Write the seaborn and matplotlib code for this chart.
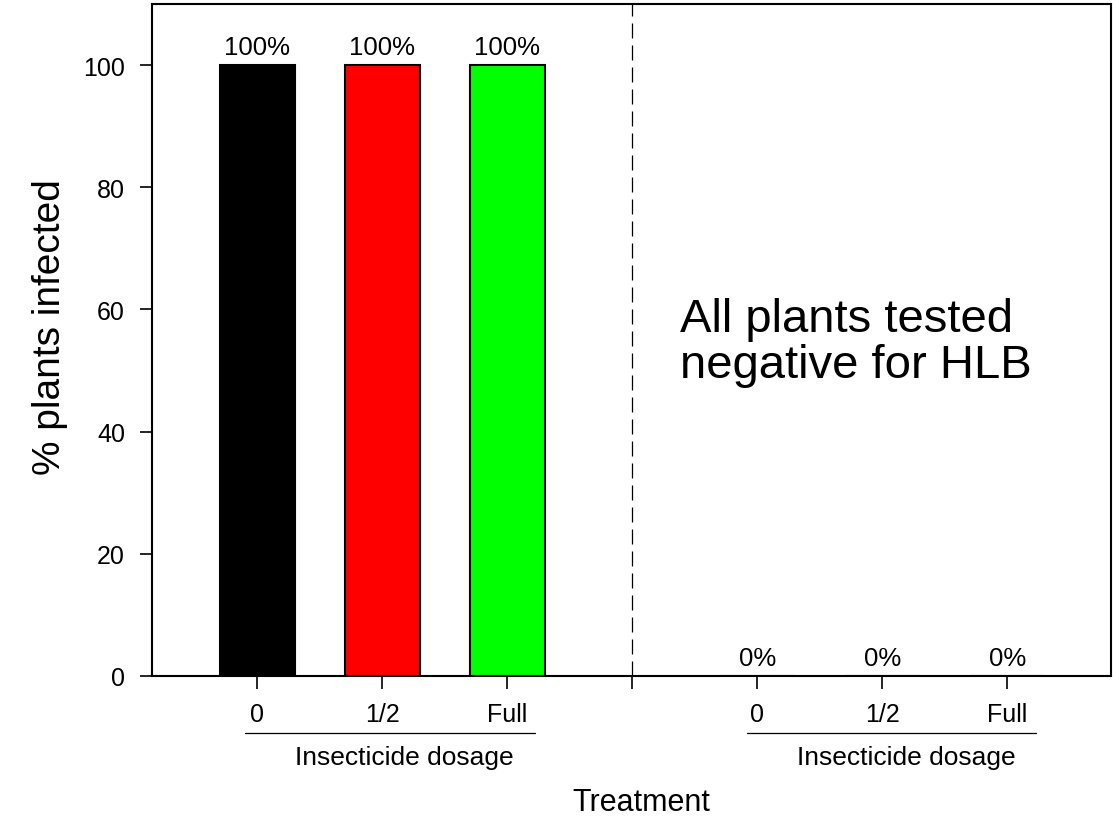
import matplotlib
matplotlib.use("Agg")
import matplotlib.pyplot as plt
import matplotlib.transforms as mtransforms
import pandas as pd
import seaborn as sns

# data
treatments = ["Left", "Right"]
dosages = ["0", "1/2", "Full"]
pct_left = [100, 100, 100]
pct_right = [0, 0, 0]
dose_colors = ["#000000", "#ff0000", "#00ff00"]

rows = []
for treat, vals in zip(treatments, [pct_left, pct_right]):
    for dose, v in zip(dosages, vals):
        rows.append({"slot": f"{treat} {dose}", "dose": dose, "pct": v})
df = pd.DataFrame(rows)

# an empty slot between the two groups holds the dashed divider
order = [f"Left {d}" for d in dosages] + ["gap"] + [f"Right {d}" for d in dosages]

sns.set_style("ticks")
plt.rcParams["font.family"] = ["Liberation Sans", "DejaVu Sans"]
plt.rcParams.update({"text.color": "black", "axes.labelcolor": "black",
                     "xtick.color": "black", "ytick.color": "black"})

fig = plt.figure(figsize=(11.13, 8.2), dpi=100)
ax = fig.add_axes([0.1366, 0.1744, 0.8616, 0.8195])

sns.barplot(data=df, x="slot", y="pct", hue="dose", order=order,
            hue_order=dosages, palette=dict(zip(dosages, dose_colors)),
            dodge=False, width=0.6, saturation=1, edgecolor="black",
            linewidth=1.5, legend=False, ax=ax)

for cont in ax.containers:
    ax.bar_label(cont, labels=[f"{v:g}%" for v in cont.datavalues],
                 padding=4.5, fontsize=18.5)

ax.set_xlim(-0.84, 6.83)
ax.set_ylim(0, 110)
ax.set_yticks([0, 20, 40, 60, 80, 100])
ax.set_xticklabels(dosages + [""] + dosages)
ax.tick_params(axis="both", labelsize=18, length=9, width=1.2)
ax.tick_params(axis="y", pad=10.5)
ax.tick_params(axis="x", pad=9.5)
for s in ax.spines.values():
    s.set_linewidth(1.5)
    s.set_color("black")

ax.axvline(order.index("gap"), color="black", lw=0.9, ls=(0, (12, 5.6)))

ax.set_ylabel("% plants infected", fontsize=28)
ax.yaxis.set_label_coords(-0.088, 0.52)
ax.set_xlabel("")

# group brackets under the tick labels
trans = mtransforms.blended_transform_factory(ax.transData, ax.transAxes)
for x0, x1 in [(-0.1, 2.22), (3.92, 6.23)]:
    ax.plot([x0, x1], [-0.085, -0.085], color="black", lw=0.9,
            transform=trans, clip_on=False)
    ax.text((x0 + x1) / 2 + 0.12, -0.121, "Insecticide dosage", transform=trans,
            ha="center", va="center", fontsize=19)

ax.text(0.51, -0.187, "Treatment", transform=ax.transAxes,
        ha="center", va="center", fontsize=22)

ax.text(3.38, 54.7, "All plants tested\nnegative for HLB", ha="left",
        va="center", fontsize=34, linespacing=1.05)

fig.savefig("out.png", dpi=100)
